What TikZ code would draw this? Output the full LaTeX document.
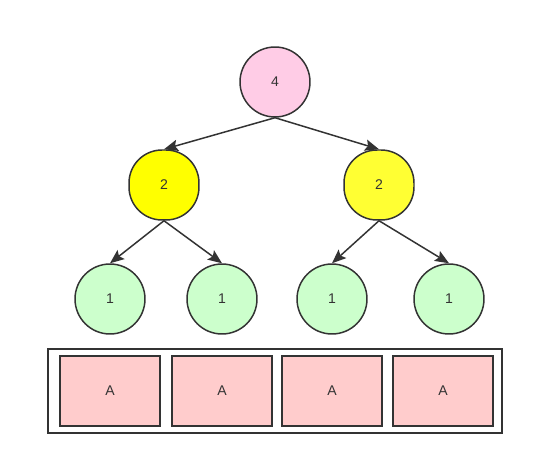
\documentclass[tikz,border=0pt]{standalone}
\usepackage{fontspec}
\setmainfont{Liberation Sans}
\usetikzlibrary{arrows.meta}
\definecolor{edgegray}{HTML}{333333}
\definecolor{rootpink}{HTML}{FFCCE6}
\definecolor{leafgreen}{HTML}{CCFFCC}
\definecolor{cellpink}{HTML}{FFCCCC}
\definecolor{midyellow}{HTML}{FFFF00}
\definecolor{midyellowb}{HTML}{FFFF33}
\tikzset{
  treenode/.style={circle, draw=edgegray, line width=0.85pt, minimum size=1.4cm, inner sep=0pt,
    text=edgegray, font=\fontsize{8}{9}\selectfont},
  midnode/.style={rectangle, rounded corners=0.66cm, draw=edgegray, line width=0.85pt,
    minimum size=1.4cm, inner sep=0pt, text=edgegray, font=\fontsize{8}{9}\selectfont},
  cell/.style={rectangle, draw=edgegray, line width=0.85pt, fill=cellpink, minimum width=2cm,
    minimum height=1.4cm, inner sep=0pt, text=edgegray, font=\fontsize{8}{9}\selectfont},
  tedge/.style={draw=edgegray, line width=0.85pt, -{Stealth[length=8pt,width=6.5pt,inset=1.5pt]}}
}
\begin{document}
\begin{tikzpicture}[x=0.02cm, y=-0.02cm]
        \useasboundingbox (0,0) rectangle (534,465);
        % tree
        \node [treenode, fill=rootpink] (root) at (275,82) {4};
        \node [midnode, fill=midyellow] (midl) at (164,185) {2};
        \node [midnode, fill=midyellowb] (midr) at (379,185) {2};
        \node [treenode, fill=leafgreen] (leafa) at (110,299) {1};
        \node [treenode, fill=leafgreen] (leafb) at (222,299) {1};
        \node [treenode, fill=leafgreen] (leafc) at (332,299) {1};
        \node [treenode, fill=leafgreen] (leafd) at (449,299) {1};
        \draw [tedge] (root.south) -- (midl.north);
        \draw [tedge] (root.south) -- (midr.north);
        \draw [tedge] (midl.south) -- (leafa.north);
        \draw [tedge] (midl.south) -- (leafb.north);
        \draw [tedge] (midr.south) -- (leafc.north);
        \draw [tedge] (midr.south) -- (leafd.north);
        % array
        \draw [draw=edgegray, line width=0.85pt] (48,349) rectangle (502,433);
        \node [cell] (cella) at (110,391) {A};
        \node [cell] (cellb) at (222,391) {A};
        \node [cell] (cellc) at (332,391) {A};
        \node [cell] (celld) at (443,391) {A};
      \end{tikzpicture}
\end{document}
